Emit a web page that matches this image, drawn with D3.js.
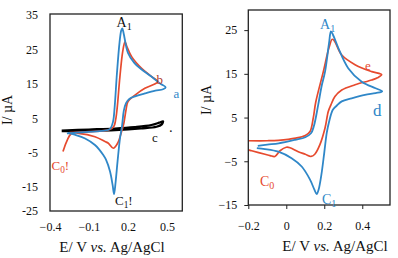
<!DOCTYPE html>
<html>
<head>
<meta charset="utf-8">
<script src="https://cdn.jsdelivr.net/npm/d3@7"></script>
<style>
  body { margin: 0; background: #fff; }
  svg text { font-family: "Liberation Serif", "DejaVu Serif", serif !important; }
</style>
</head>
<body>
<div id="container"></div>
<script>
// cyclic voltammograms, [E (V), I (uA)]
let curveA = [[-0.27,0.6],[-0.15,0.9],[0.0,1.3],[0.06,1.8],[0.085,4],[0.097,8],[0.115,18],[0.135,27],[0.148,30.5],[0.156,31.1],[0.166,29.8],[0.2,24],[0.25,21],[0.3,19.3],[0.38,17.1],[0.45,15],[0.49,14.0],
  [0.47,13.4],[0.41,13.0],[0.33,12.2],[0.26,11.4],[0.21,10.6],[0.185,9.4],[0.168,7.2],[0.155,3],[0.138,-1],[0.12,-7.5],[0.105,-13.5],[0.093,-17.1],[0.082,-14.5],[0.062,-10.5],[0.03,-7],[0.01,-5.7],[-0.054,-2.8],[-0.13,-0.9],[-0.21,0.2],[-0.26,0.7]];
let curveB = [[-0.25,0.8],[-0.1,1.1],[0.05,1.6],[0.09,2.5],[0.105,4.5],[0.117,8],[0.138,17.1],[0.16,24.5],[0.177,27.2],[0.19,26],[0.228,22.9],[0.305,19.5],[0.382,17.1],[0.43,15.6],
  [0.41,15.0],[0.33,13.7],[0.254,11.7],[0.2,9.8],[0.185,7.4],[0.168,3.5],[0.151,1.1],[0.12,-2.3],[0.087,-3.75],[0.049,-2.3],[0.023,-1.8],[-0.054,-0.4],[-0.18,0.6],[-0.233,0.6],[-0.3,-4.7]];
let curveC = [[-0.31,1.4],[-0.1,1.7],[0.1,2.0],[0.25,2.4],[0.38,3.0],[0.44,3.7],[0.47,4.1],[0.46,3.2],[0.42,2.5],[0.3,2.0],[0.1,1.5],[-0.1,1.3],[-0.31,1.2]];

let curveD = [[-0.15,-1.5],[-0.1,-1.2],[-0.04,-0.9],[0.046,-0.1],[0.1,0.5],[0.13,1.4],[0.145,3],[0.168,7.9],[0.185,12],[0.204,15.5],[0.225,22],[0.235,24.7],[0.245,24],[0.274,20.9],[0.326,16.3],[0.397,13.2],[0.47,11.7],[0.505,11.0],
  [0.47,10.6],[0.414,10.2],[0.344,9.4],[0.292,8.7],[0.265,7.7],[0.245,6.8],[0.225,4],[0.213,1.5],[0.2,-3],[0.185,-8],[0.17,-11.5],[0.16,-12.5],[0.148,-11.5],[0.125,-9.2],[0.081,-6.2],[0.028,-4.3],[-0.042,-2.8],[-0.112,-2.2],[-0.155,-2.0]];
let curveE = [[-0.2,-0.3],[-0.1,-0.3],[-0.042,-0.2],[0.05,0.3],[0.1,0.9],[0.125,1.8],[0.142,4.9],[0.155,8.5],[0.195,15.5],[0.225,21],[0.242,22.9],[0.255,22.4],[0.292,19.3],[0.362,17.1],[0.45,15.5],[0.502,14.8],
  [0.48,14.1],[0.45,13.6],[0.362,12.5],[0.292,11.3],[0.256,9.8],[0.235,7.9],[0.221,6.4],[0.204,2.6],[0.177,-1.2],[0.15,-3.4],[0.13,-3.9],[0.1,-3.4],[0.063,-2.8],[0.02,-1.9],[0.0,-1.8],[-0.033,-2.6],[-0.06,-3.9],[-0.085,-3.7],[-0.112,-3.4],[-0.182,-2.6],[-0.2,-2.4]];

// tick labels
let leftXTicks = [-0.4, -0.1, 0.2, 0.5];
let leftYTicks = [35, 25, 15, 5, -5, -15, -22];
let rightXTicks = [-0.2, 0, 0.2, 0.4];
let rightYTicks = [25, 15, 5, -5, -15];

let red = "#e64a2e";
let blue = "#2f87c8";
let serif = "'Liberation Serif', 'DejaVu Serif', serif";

let w = 398;
let h = 258;

let viz = d3.select("#container")
  .append("svg")
    .attr("width", w)
    .attr("height", h)
    .attr("font-family", serif)
    .style("background-color", "white");

// left panel scales
let xL = d3.scaleLinear().domain([-0.4, 0.618]).range([50, 182.3]);
let yL = d3.scaleLinear().domain([-22, 35.3]).range([211, 14]);
// right panel scales
let xR = d3.scaleLinear().domain([-0.2, 0.546]).range([248.3, 390]);
let yR = d3.scaleLinear().domain([-15, 29.6]).range([205, 10]);

function drawCurve(data, xs, ys, color, width) {
  let line = d3.line()
    .x(function(d){ return xs(d[0]); })
    .y(function(d){ return ys(d[1]); })
    .curve(d3.curveCatmullRom.alpha(0.5));
  viz.append("path")
    .datum(data)
    .attr("d", line)
    .attr("fill", "none")
    .attr("stroke", color)
    .attr("stroke-width", width)
    .attr("stroke-linejoin", "round");
}

function frame(xs, ys) {
  viz.append("rect")
    .attr("x", xs.range()[0])
    .attr("y", ys.range()[1])
    .attr("width", xs.range()[1] - xs.range()[0])
    .attr("height", ys.range()[0] - ys.range()[1])
    .attr("fill", "none")
    .attr("stroke", "#222")
    .attr("stroke-width", 1.3);
}

function styleAxis(g) {
  g.attr("font-family", serif);
  g.select(".domain").remove();
  g.selectAll("text").attr("font-size", "12px").attr("fill", "#111");
  g.selectAll("line").attr("stroke", "#222");
}

// left panel
viz.append("g")
  .attr("transform", "translate(0," + yL.range()[0] + ")")
  .call(d3.axisBottom(xL).tickValues(leftXTicks).tickSize(0).tickPadding(11.5).tickFormat(d3.format(".1f")))
  .call(styleAxis);
viz.append("g")
  .attr("transform", "translate(" + xL.range()[0] + ",0)")
  .call(d3.axisLeft(yL).tickValues(leftYTicks).tickSize(0).tickPadding(12)
    .tickFormat(function(d){ return d == -22 ? "-25" : d; }))
  .call(styleAxis);

drawCurve(curveC, xL, yL, "#000", 2.2);
drawCurve(curveB, xL, yL, red, 1.7);
drawCurve(curveA, xL, yL, blue, 1.8);
frame(xL, yL);

// right panel
viz.append("g")
  .attr("transform", "translate(0," + yR.range()[0] + ")")
  .call(d3.axisBottom(xR).tickValues(rightXTicks).tickSize(4).tickPadding(12.5)
    .tickFormat(function(d){ return d == 0 ? "0" : d3.format(".1f")(d); }))
  .call(styleAxis);
viz.append("g")
  .attr("transform", "translate(" + xR.range()[0] + ",0)")
  .call(d3.axisLeft(yR).tickValues(rightYTicks).tickSize(4).tickPadding(7))
  .call(styleAxis);

drawCurve(curveE, xR, yR, red, 1.7);
drawCurve(curveD, xR, yR, blue, 1.8);
frame(xR, yR);

// axis titles
function xTitle(cx, y) {
  let t = viz.append("text")
    .attr("x", cx).attr("y", y)
    .attr("text-anchor", "middle")
    .attr("font-size", "15px")
    .attr("fill", "#111");
  t.append("tspan").text("E/ V ");
  t.append("tspan").attr("font-style", "italic").text("vs.");
  t.append("tspan").text(" Ag/AgCl");
}
xTitle(112, 252);
xTitle(335, 251);

function yTitle(x, cy) {
  viz.append("text")
    .attr("transform", "translate(" + x + "," + cy + ") rotate(-90)")
    .attr("text-anchor", "middle")
    .attr("font-size", "14px")
    .attr("fill", "#111")
    .text("I/ \u00b5A");
}
yTitle(12, 110);
yTitle(211, 100);

// peak labels
function label(x, y, main, sub, tail, color, size) {
  let t = viz.append("text")
    .attr("x", x).attr("y", y)
    .attr("font-size", size + "px")
    .attr("fill", color);
  t.append("tspan").text(main);
  if (sub) {
    t.append("tspan").attr("font-size", (size * 0.72) + "px").attr("dy", 3).text(sub);
  }
  if (tail) {
    t.append("tspan").attr("dy", sub ? -3 : 0).text(tail);
  }
}
label(116.5, 27, "A", "1", "", "#111", 14);
label(156.5, 84, "b", "", "", "#b33a2a", 13);
label(173.5, 98, "a", "", "", blue, 13);
label(152, 142, "c", "", "", "#111", 13);
label(168.5, 136, "\u00b7", "", "", "#111", 14);
label(51.5, 170, "C", "0", "!", red, 13);
label(115, 205, "C", "1", "!", "#111", 13);

label(320, 29, "A", "1", "", blue, 14);
label(365, 70, "e", "", "", red, 13);
label(373, 116, "d", "", "", blue, 17);
label(260, 186, "C", "0", "", red, 14);
label(322, 204, "C", "1", "", blue, 14);
</script>
</body>
</html>
